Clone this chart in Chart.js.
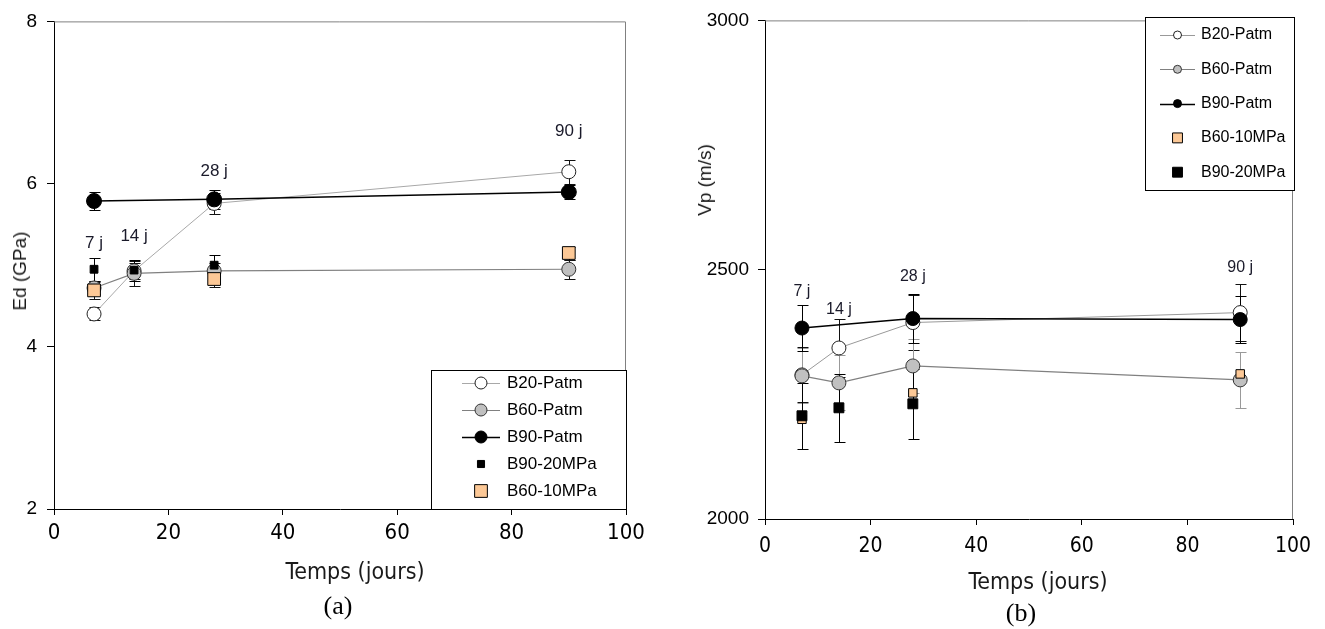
<!DOCTYPE html>
<html>
<head>
<meta charset="utf-8">
<script src="https://cdn.jsdelivr.net/npm/chart.js@4.4.0/dist/chart.umd.min.js"></script>
<style>
  body { margin: 0; background: #fff; width: 1325px; height: 629px; position: relative; overflow: hidden;
         font-family: Arial, "Liberation Sans", sans-serif; }
  .box { position: absolute; top: 0; height: 629px; }
  #boxA { left: 0; width: 660px; }
  #boxB { left: 700px; width: 625px; }
  .lbl { position: absolute; white-space: nowrap; color: #1a1a1a; transform: translate(-50%, -50%); }
  .narrow { font-family: "Liberation Sans Narrow", "Arial Narrow", "DejaVu Sans Condensed", sans-serif; font-size: 23px; }
  .ytitle { font-size: 19px; transform: translate(-50%, -50%) rotate(-90deg); }
  .cap { font-family: "Liberation Serif", "Times New Roman", serif; font-size: 26px; color: #000; }
</style>
</head>
<body>
<div class="box" id="boxA"><canvas id="chartA"></canvas></div>
<div class="box" id="boxB"><canvas id="chartB"></canvas></div>

<div class="lbl ytitle" style="left:20px;top:271px">Ed (GPa)</div>
<div class="lbl narrow" style="left:355px;top:571px">Temps (jours)</div>
<div class="lbl cap" style="left:338px;top:606px">(a)</div>

<div class="lbl ytitle" style="left:705px;top:180px">Vp (m/s)</div>
<div class="lbl narrow" style="left:1038px;top:581px">Temps (jours)</div>
<div class="lbl cap" style="left:1021px;top:613px">(b)</div>

<script>
// --- données ---
const days = [7, 14, 28, 90];
const dayLabels = ['7 j', '14 j', '28 j', '90 j'];

// (a) Ed (GPa)
const edB20 = [4.40, 4.93, 5.76, 6.15];
const edB20Err = [0.08, 0.10, 0.13, 0.15];
const edB60 = [4.72, 4.90, 4.93, 4.95];
const edB60Err = [0.08, 0.15, 0.10, 0.12];
const edB90Days = [7, 28, 90];
const edB90 = [5.79, 5.81, 5.90];
const edB90Err = [0.11, 0.12, 0.09];
const ed20Days = [7, 14, 28];
const ed20 = [4.95, 4.94, 5.00];
const ed20Err = [0.14, 0.13, 0.13];
const ed10Days = [7, 28, 90];
const ed10 = [4.69, 4.83, 5.15];
const ed10Err = [0.10, 0.10, 0.08];
const edNoteY = [5.27, 5.35, 6.16, 6.65];

// (b) Vp (m/s)
const vpB20 = [2289, 2343, 2394, 2414];
const vpB20Err = [55, 58, 55, 58];
const vpB60 = [2287, 2273, 2307, 2279];
const vpB60Err = [55, 55, 55, 56];
const vpB90Days = [7, 28, 90];
const vpB90 = [2383, 2402, 2400];
const vpB90Err = [46, 50, 48];
const vp10Days = [7, 28, 90];
const vp10 = [2200, 2253, 2291];
const vp20Days = [7, 14, 28];
const vp20 = [2207, 2223, 2231];
const vp20Err = [66, 68, 70];
const vpNoteY = [2456, 2420, 2486, 2504];

const SANS = 'Arial, "Liberation Sans", sans-serif';
const NARROW = '"Liberation Sans Narrow", "Arial Narrow", "DejaVu Sans Condensed", sans-serif';

function pts(xs, ys) {
    return xs.map((x, i) => ({ x: x, y: ys[i] }));
}

// barres d'erreur (sous les marqueurs)
const errorBars = {
    id: 'errorBars',
    beforeDatasetsDraw(chart) {
        const ctx = chart.ctx, xs = chart.scales.x, ys = chart.scales.y;
        chart.data.datasets.forEach(ds => {
            if (!ds.errors) return;
            ctx.save();
            ctx.strokeStyle = ds.errColor || '#000';
            ctx.lineWidth = 1;
            ds.data.forEach((p, i) => {
                const e = ds.errors[i];
                if (!e) return;
                const x = Math.round(xs.getPixelForValue(p.x)) + 0.5;
                const y1 = Math.round(ys.getPixelForValue(p.y + e)) + 0.5;
                const y2 = Math.round(ys.getPixelForValue(p.y - e)) + 0.5;
                ctx.beginPath();
                ctx.moveTo(x, y1); ctx.lineTo(x, y2);
                ctx.moveTo(x - 5, y1); ctx.lineTo(x + 6, y1);
                ctx.moveTo(x - 5, y2); ctx.lineTo(x + 6, y2);
                ctx.stroke();
            });
            ctx.restore();
        });
    }
};

// cadre gris haut / droite
const frame = {
    id: 'frame',
    beforeDatasetsDraw(chart) {
        const a = chart.chartArea, ctx = chart.ctx;
        ctx.save();
        ctx.strokeStyle = '#808080';
        ctx.lineWidth = 1;
        ctx.beginPath();
        ctx.moveTo(a.left, a.top + 0.5);
        ctx.lineTo(a.right - 0.5, a.top + 0.5);
        ctx.lineTo(a.right - 0.5, a.bottom);
        ctx.stroke();
        ctx.restore();
    }
};

// étiquettes "7 j", "14 j" ...
function notesPlugin(xs, ys, texts, font) {
    return {
        id: 'notes',
        afterDatasetsDraw(chart) {
            const ctx = chart.ctx;
            ctx.save();
            ctx.font = font;
            ctx.fillStyle = '#1a1a2a';
            ctx.textAlign = 'center';
            ctx.textBaseline = 'middle';
            texts.forEach((t, i) => {
                ctx.fillText(t, chart.scales.x.getPixelForValue(xs[i]), chart.scales.y.getPixelForValue(ys[i]));
            });
            ctx.restore();
        }
    };
}

// légende encadrée dans la zone du graphe
function legendPlugin(cfg) {
    return {
        id: 'boxLegend',
        afterDatasetsDraw(chart) {
            const ctx = chart.ctx;
            const [x1, y1, x2, y2] = cfg.box;
            ctx.save();
            ctx.fillStyle = '#fff';
            ctx.fillRect(x1, y1, x2 - x1, y2 - y1);
            ctx.strokeStyle = '#000';
            ctx.lineWidth = 1;
            ctx.strokeRect(x1 + 0.5, y1 + 0.5, x2 - x1 - 1, y2 - y1 - 1);
            ctx.font = cfg.font;
            ctx.textBaseline = 'middle';
            ctx.textAlign = 'left';
            chart.data.datasets.forEach((ds, row) => {
                const y = cfg.top + row * cfg.step;
                const cx = (cfg.line[0] + cfg.line[1]) / 2;
                if (ds.showLine !== false) {
                    ctx.strokeStyle = ds.borderColor;
                    ctx.lineWidth = ds.borderWidth;
                    ctx.beginPath();
                    ctx.moveTo(cfg.line[0], Math.round(y) + 0.5);
                    ctx.lineTo(cfg.line[1], Math.round(y) + 0.5);
                    ctx.stroke();
                }
                ctx.fillStyle = ds.pointBackgroundColor;
                ctx.strokeStyle = ds.pointBorderColor;
                ctx.lineWidth = 1;
                Chart.helpers.drawPoint(ctx, { pointStyle: ds.pointStyle, radius: ds.legendRadius, borderWidth: 1, rotation: 0 }, cx, y);
                ctx.fillStyle = '#000';
                ctx.fillText(ds.label, cfg.textX, y);
            });
            ctx.restore();
        }
    };
}

function lineSet(label, data, errs, line, fill, edge, width, r, lr, order, errColor) {
    return {
        label: label, data: data, errors: errs, errColor: errColor,
        borderColor: line, borderWidth: width, showLine: true,
        pointStyle: 'circle', pointRadius: r, legendRadius: lr,
        pointBackgroundColor: fill, pointBorderColor: edge, pointBorderWidth: 1,
        order: order
    };
}

function markSet(label, data, errs, fill, r, lr, order, errColor) {
    return {
        label: label, data: data, errors: errs, errColor: errColor,
        borderColor: '#000', borderWidth: 1, showLine: false,
        pointStyle: 'rect', pointRadius: r, legendRadius: lr,
        pointBackgroundColor: fill, pointBorderColor: '#000', pointBorderWidth: 1,
        order: order
    };
}

function makeChart(id, datasets, y, geo, plugins) {
    return new Chart(document.getElementById(id), {
        type: 'line',
        data: { datasets: datasets },
        plugins: [frame, errorBars].concat(plugins),
        options: {
            responsive: true,
            maintainAspectRatio: false,
            animation: false,
            events: [],
            layout: { padding: { left: 0, top: geo.top, right: geo.right, bottom: 0 } },
            plugins: { legend: { display: false }, tooltip: { enabled: false } },
            scales: {
                x: {
                    type: 'linear', min: 0, max: 100,
                    ticks: { stepSize: 20, color: '#000', padding: geo.xPad, font: { family: NARROW, size: geo.xFont },
                             callback: v => String(v) },
                    grid: { drawOnChartArea: false, tickLength: 6, color: '#000' },
                    border: { color: '#000', width: 1 },
                    afterFit(s) { s.height = geo.xHeight; }
                },
                y: {
                    min: y.min, max: y.max,
                    ticks: { stepSize: y.step, color: '#000', padding: geo.yPad, font: { family: SANS, size: geo.yFont },
                             callback: v => String(v) },
                    grid: { drawOnChartArea: false, tickLength: 7, color: '#000' },
                    border: { color: '#000', width: 1 },
                    afterFit(s) { s.width = geo.yWidth; }
                }
            }
        }
    });
}

// (a)
makeChart('chartA', [
    lineSet('B20-Patm', pts(days, edB20), edB20Err, '#a8a8a8', '#fff', '#222', 1, 7, 6, 5, '#111'),
    lineSet('B60-Patm', pts(days, edB60), edB60Err, '#808080', '#c0c0c0', '#333', 1.2, 7, 6, 4, '#111'),
    lineSet('B90-Patm', pts(edB90Days, edB90), edB90Err, '#000', '#000', '#000', 1.5, 7.5, 6, 3, '#000'),
    markSet('B90-20MPa', pts(ed20Days, ed20), ed20Err, '#000', 5.5, 5, 2, '#000'),
    markSet('B60-10MPa', pts(ed10Days, ed10), ed10Err, '#fcc896', 9, 9, 1, '#111')
], { min: 2, max: 8, step: 2 },
   { top: 16, right: 34, xHeight: 120, yWidth: 54, xPad: 5, yPad: 10, xFont: 22, yFont: 19 },
   [notesPlugin(days, edNoteY, dayLabels, '17px ' + SANS),
    legendPlugin({ box: [431, 370, 627, 510], top: 383, step: 27, line: [462, 500], textX: 507, font: '17px ' + SANS })]);

// (b)
makeChart('chartB', [
    lineSet('B20-Patm', pts(days, vpB20), vpB20Err, '#999', '#fff', '#222', 1, 7, 4, 5, '#111'),
    lineSet('B60-Patm', pts(days, vpB60), vpB60Err, '#808080', '#c0c0c0', '#333', 1.2, 7, 4, 4, '#999'),
    lineSet('B90-Patm', pts(vpB90Days, vpB90), vpB90Err, '#000', '#000', '#000', 1.5, 7, 4, 3, '#000'),
    markSet('B60-10MPa', pts(vp10Days, vp10), null, '#fcc896', 6, 7, 2, '#999'),
    markSet('B90-20MPa', pts(vp20Days, vp20), vp20Err, '#000', 7, 7, 1, '#000')
], { min: 2000, max: 3000, step: 500 },
   { top: 18, right: 32, xHeight: 110, yWidth: 65, xPad: 9, yPad: 9, xFont: 21, yFont: 19 },
   [notesPlugin(days, vpNoteY, dayLabels, '16px ' + SANS),
    legendPlugin({ box: [445, 17, 595, 191], top: 35, step: 34.3, line: [460, 495], textX: 501, font: '16px ' + SANS })]);
</script>
</body>
</html>
